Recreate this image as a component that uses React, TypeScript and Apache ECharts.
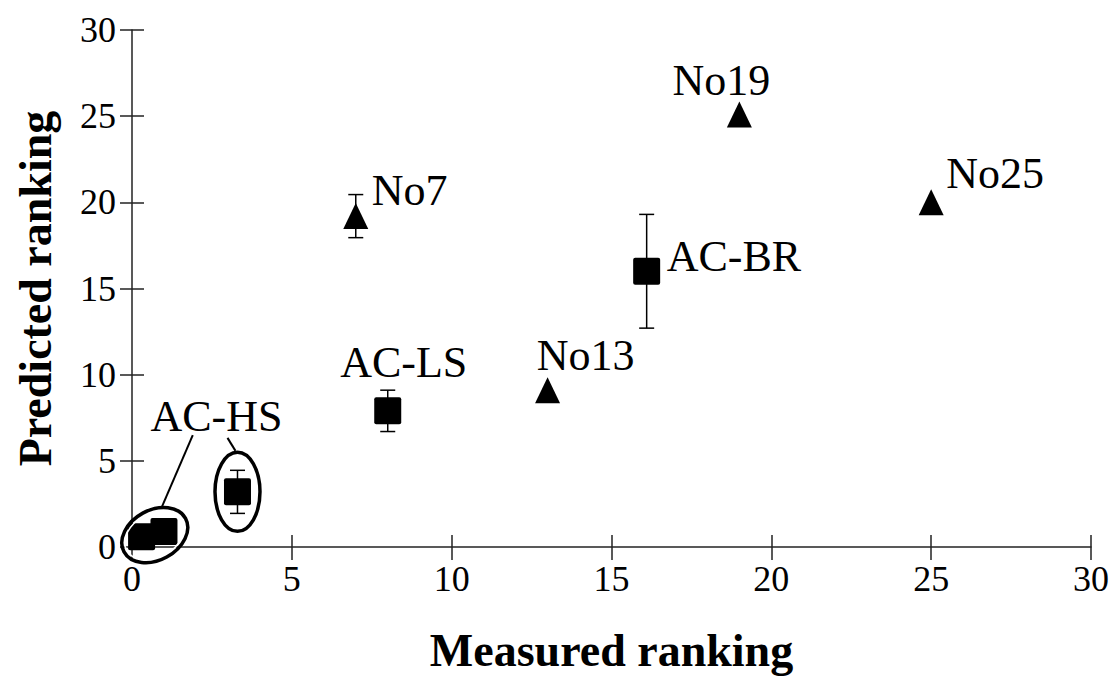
import React, { useEffect, useRef } from "react";
import * as echarts from "echarts";

// ---- data ----
const axisMin = 0;
const axisMax = 30;
const axisStep = 5;

const acLabels = ["", "", "AC-HS", "AC-LS", "AC-BR"];
const acMeasured = [0.3, 1.0, 3.3, 8.0, 16.1];
const acPredicted = [0.6, 0.9, 3.2, 7.9, 16.0];
const acError = [0, 0, 1.25, 1.2, 3.3];

const noLabels = ["No7", "No13", "No19", "No25"];
const noMeasured = [7, 13, 19, 25];
const noPredicted = [19.2, 9.1, 25.1, 20.0];
const noError = [1.25, 0, 0, 0];

// ---- label styling (offsets from point centre, in px) ----
const acLabelOffsets: [number, number][] = [[0, 0], [0, 0], [-21, -75], [16, -48], [20, -15]];
const acLabelAlign = ["center", "center", "center", "center", "left"];
const noLabelOffsets: [number, number][] = [[16, -26], [38, -35], [-18, -34], [64, -29]];
const noLabelAlign = ["left", "center", "center", "center"];

const FONT = "'Liberation Serif', 'Times New Roman', serif";
const INK = "#000";
const AXIS = "#222";
const SQUARE = "path://M2,0 H25 Q27,0 27,2 V25 Q27,27 25,27 H2 Q0,27 0,25 V2 Q0,0 2,0 Z";

export default function App() {
  const ref = useRef<HTMLDivElement>(null);

  useEffect(() => {
    if (!ref.current) return;
    const chart = echarts.init(ref.current, undefined, { renderer: "svg" });

    const labelStyle = {
      fontFamily: FONT,
      fontSize: 44,
      color: INK,
      verticalAlign: "middle",
    };

    const acData = acMeasured.map((x, i) => ({
      value: [x, acPredicted[i]],
      label: acLabels[i]
        ? {
            show: true,
            position: "inside",
            formatter: acLabels[i],
            offset: acLabelOffsets[i],
            align: acLabelAlign[i],
            ...labelStyle,
          }
        : { show: false },
    }));

    const noData = noMeasured.map((x, i) => ({
      value: [x, noPredicted[i]],
      label: {
        show: true,
        position: "inside",
        formatter: noLabels[i],
        offset: noLabelOffsets[i],
        align: noLabelAlign[i],
        ...labelStyle,
      },
    }));

    const errData: number[][] = [];
    acMeasured.forEach((x, i) => {
      if (acError[i] > 0) errData.push([x, acPredicted[i] - acError[i], acPredicted[i] + acError[i]]);
    });
    noMeasured.forEach((x, i) => {
      if (noError[i] > 0) errData.push([x, noPredicted[i] - noError[i], noPredicted[i] + noError[i]]);
    });

    const baseAxis = {
      type: "value",
      min: axisMin,
      max: axisMax,
      interval: axisStep,
      splitLine: { show: false },
    };

    const option: any = {
      animation: false,
      backgroundColor: "#fff",
      grid: { left: 132, right: 25, top: 30, bottom: 131, containLabel: false },
      xAxis: [
        {
          ...baseAxis,
          position: "bottom",
          name: "Measured ranking",
          nameLocation: "middle",
          nameGap: 80,
          nameTextStyle: { fontFamily: FONT, fontSize: 46, fontWeight: "bold", color: INK },
          axisLine: { show: true, lineStyle: { color: AXIS, width: 1.5 } },
          axisTick: { show: true, inside: false, length: 13, lineStyle: { color: AXIS, width: 1.5 } },
          axisLabel: { fontFamily: FONT, fontSize: 36, color: INK, margin: 14 },
        },
        {
          ...baseAxis,
          position: "bottom",
          axisLine: { show: false },
          axisTick: { show: true, inside: true, length: 12, lineStyle: { color: AXIS, width: 1.5 } },
          axisLabel: { show: false },
        },
      ],
      yAxis: [
        {
          ...baseAxis,
          position: "left",
          name: "Predicted ranking",
          nameLocation: "middle",
          nameGap: 74,
          nameTextStyle: { fontFamily: FONT, fontSize: 46, fontWeight: "bold", color: INK },
          axisLine: { show: true, lineStyle: { color: AXIS, width: 1.5 } },
          axisTick: { show: true, inside: false, length: 12, lineStyle: { color: AXIS, width: 1.5 } },
          axisLabel: { fontFamily: FONT, fontSize: 36, color: INK, margin: 16 },
        },
        {
          ...baseAxis,
          position: "left",
          axisLine: { show: false },
          axisTick: { show: true, inside: true, length: 12, lineStyle: { color: AXIS, width: 1.5 } },
          axisLabel: { show: false },
        },
      ],
      series: [
        {
          type: "custom",
          name: "error",
          z: 1,
          data: errData,
          renderItem: (_p: any, api: any) => {
            const x = api.value(0);
            const top = api.coord([x, api.value(2)]);
            const bot = api.coord([x, api.value(1)]);
            const hw = 7.5;
            const st = { stroke: INK, lineWidth: 1.5 };
            return {
              type: "group",
              children: [
                { type: "line", shape: { x1: top[0], y1: top[1], x2: bot[0], y2: bot[1] }, style: st },
                { type: "line", shape: { x1: top[0] - hw, y1: top[1], x2: top[0] + hw, y2: top[1] }, style: st },
                { type: "line", shape: { x1: bot[0] - hw, y1: bot[1], x2: bot[0] + hw, y2: bot[1] }, style: st },
              ],
            };
          },
        },
        {
          type: "scatter",
          name: "AC",
          z: 3,
          symbol: SQUARE,
          symbolSize: 27,
          itemStyle: { color: INK, opacity: 1 },
          data: acData,
        },
        {
          type: "scatter",
          name: "No",
          z: 3,
          symbol: "triangle",
          symbolSize: [25, 26],
          itemStyle: { color: INK, opacity: 1 },
          data: noData,
        },
      ],
    };

    chart.setOption(option);

    // annotations (ellipses and leader lines) positioned from data coordinates
    const c0 = chart.convertToPixel({ gridIndex: 0 }, [acMeasured[0], acPredicted[0]]) as number[];
    const c1 = chart.convertToPixel({ gridIndex: 0 }, [acMeasured[1], acPredicted[1]]) as number[];
    const e2 = chart.convertToPixel({ gridIndex: 0 }, [acMeasured[2], acPredicted[2]]) as number[];
    const cx = (c0[0] + c1[0]) / 2 + 2;
    const cy = (c0[1] + c1[1]) / 2 + 1;

    const stroke = { fill: "none", stroke: INK, lineWidth: 3.5 };
    chart.setOption({
      graphic: [
        {
          type: "ellipse",
          x: cx,
          y: cy,
          rotation: 0.5,
          z: 100,
          shape: { cx: 0, cy: 0, rx: 32, ry: 22 },
          style: { fill: "none", stroke: "#fff", lineWidth: 1.5 },
        },
        {
          type: "ellipse",
          x: cx,
          y: cy,
          rotation: 0.5,
          z: 101,
          shape: { cx: 0, cy: 0, rx: 35, ry: 25 },
          style: stroke,
        },
        {
          type: "ellipse",
          x: e2[0],
          y: e2[1],
          z: 101,
          shape: { cx: 0, cy: 0, rx: 22.5, ry: 39.5 },
          style: stroke,
        },
        {
          type: "line",
          z: 101,
          shape: { x1: cx + 38, y1: cy - 100, x2: cx + 7, y2: cy - 28 },
          style: { stroke: INK, lineWidth: 2 },
        },
        {
          type: "line",
          z: 101,
          shape: { x1: e2[0] - 10, y1: e2[1] - 54, x2: e2[0] - 2, y2: e2[1] - 41 },
          style: { stroke: INK, lineWidth: 2 },
        },
      ],
    });

    return () => chart.dispose();
  }, []);

  return (
    <div
      ref={ref}
      style={{ position: "absolute", left: 0, top: 0, width: 1116, height: 678, background: "#fff" }}
    />
  );
}
